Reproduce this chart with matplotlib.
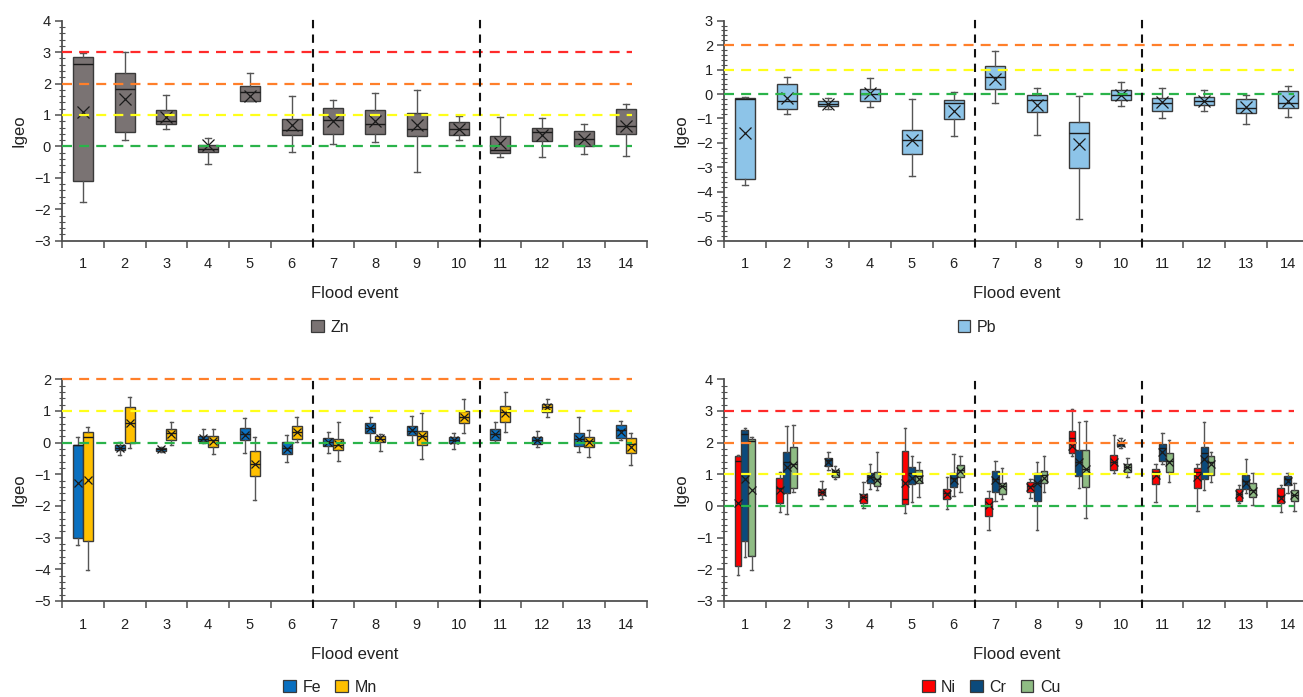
import matplotlib
matplotlib.use('Agg')
import matplotlib.pyplot as plt
from matplotlib.patches import Patch
from matplotlib.ticker import MultipleLocator, FixedLocator, NullFormatter, FixedFormatter
import matplotlib.transforms as mtrans

plt.rcParams['font.family'] = ['Liberation Sans', 'DejaVu Sans']

events = [str(i) for i in range(1, 15)]

# rows: (whisker low, Q1, median, Q3, whisker high, mean) for flood events 1..14
zn = [(-1.78, -1.11, 2.63, 2.83, 2.97, 1.09), (0.21, 0.45, 1.82, 2.33, 2.99, 1.52),
      (0.55, 0.72, 0.80, 1.16, 1.65, 0.93), (-0.55, -0.19, -0.08, 0.06, 0.27, 0.04),
      (1.43, 1.43, 1.72, 1.93, 2.33, 1.59), (-0.17, 0.37, 0.53, 0.87, 1.62, 0.68),
      (0.07, 0.38, 0.83, 1.22, 1.47, 0.80), (0.13, 0.41, 0.71, 1.17, 1.69, 0.81),
      (-0.80, 0.32, 0.57, 1.07, 1.81, 0.69), (0.21, 0.36, 0.57, 0.78, 0.98, 0.57),
      (-0.33, -0.20, -0.11, 0.33, 0.94, 0.11), (-0.34, 0.16, 0.46, 0.60, 0.89, 0.35),
      (-0.23, 0.02, 0.25, 0.50, 0.70, 0.23), (-0.31, 0.38, 0.65, 1.19, 1.36, 0.64)]

pb = [(-3.74, -3.47, -0.22, -0.15, -0.11, -1.58), (-0.80, -0.61, -0.29, 0.40, 0.70, -0.15),
      (-0.60, -0.50, -0.40, -0.30, -0.15, -0.42), (-0.53, -0.29, 0.01, 0.22, 0.65, 0.03),
      (-3.37, -2.47, -1.87, -1.49, -0.19, -1.90), (-1.72, -1.02, -0.37, -0.26, 0.07, -0.70),
      (-0.35, 0.20, 0.71, 1.13, 1.75, 0.63), (-1.68, -0.74, -0.23, -0.03, 0.23, -0.44),
      (-5.12, -3.04, -1.61, -1.13, -0.07, -2.03), (-0.48, -0.23, -0.03, 0.15, 0.49, -0.04),
      (-1.00, -0.68, -0.35, -0.16, 0.25, -0.34), (-0.71, -0.44, -0.27, -0.12, 0.16, -0.27),
      (-1.24, -0.76, -0.56, -0.22, -0.04, -0.53), (-0.95, -0.59, -0.38, 0.12, 0.31, -0.30)]

fe = [(-3.22, -3.01, -0.08, -0.06, 0.18, -1.26), (-0.39, -0.24, -0.17, -0.09, 0.03, -0.18),
      (-0.31, -0.26, -0.21, -0.16, -0.14, -0.21), (-0.02, 0.05, 0.13, 0.20, 0.43, 0.14),
      (-0.34, 0.09, 0.26, 0.46, 0.79, 0.25), (-0.60, -0.35, -0.16, 0.03, 0.24, -0.20),
      (-0.34, -0.12, 0.02, 0.14, 0.34, 0.02), (0.01, 0.31, 0.46, 0.63, 0.80, 0.46),
      (0.01, 0.24, 0.38, 0.51, 0.84, 0.39), (-0.19, -0.02, 0.09, 0.18, 0.32, 0.08),
      (0.01, 0.08, 0.27, 0.42, 0.65, 0.26), (-0.14, -0.03, 0.09, 0.17, 0.38, 0.08),
      (-0.28, -0.12, 0.12, 0.31, 0.82, 0.12), (0.07, 0.15, 0.39, 0.55, 0.69, 0.35)]

mn = [(-4.02, -3.11, 0.18, 0.33, 0.49, -1.18), (-0.18, 0.00, 0.62, 1.11, 1.45, 0.62),
      (-0.07, 0.09, 0.29, 0.42, 0.66, 0.27), (-0.35, -0.14, 0.07, 0.20, 0.42, 0.04),
      (-1.82, -1.06, -0.66, -0.25, 0.17, -0.67), (0.03, 0.12, 0.35, 0.53, 0.81, 0.35),
      (-0.57, -0.22, -0.07, 0.12, 0.64, -0.05), (-0.27, 0.01, 0.13, 0.21, 0.28, 0.14),
      (-0.52, -0.07, 0.21, 0.37, 0.95, 0.20), (0.29, 0.63, 0.82, 0.99, 1.38, 0.82),
      (0.35, 0.66, 0.97, 1.16, 1.59, 0.95), (0.82, 0.98, 1.13, 1.22, 1.39, 1.13),
      (-0.46, -0.13, 0.04, 0.17, 0.41, 0.01), (-0.71, -0.32, -0.05, 0.16, 0.32, -0.13)]

ni = [(-2.17, -1.88, 1.42, 1.57, 1.61, 0.11), (-0.18, 0.08, 0.56, 0.89, 1.06, 0.51),
      (0.22, 0.34, 0.44, 0.53, 0.79, 0.43), (-0.06, 0.11, 0.29, 0.39, 0.75, 0.29),
      (-0.23, 0.06, 0.21, 1.74, 2.46, 0.72), (-0.11, 0.23, 0.42, 0.55, 0.91, 0.38),
      (-0.77, -0.32, 0.00, 0.25, 0.47, 0.02), (0.26, 0.44, 0.63, 0.76, 0.85, 0.60),
      (1.59, 1.67, 2.15, 2.37, 3.07, 1.90), (1.04, 1.14, 1.40, 1.61, 2.24, 1.38),
      (0.13, 0.69, 1.06, 1.17, 1.31, 0.98), (-0.16, 0.58, 1.08, 1.20, 1.32, 0.90),
      (0.08, 0.16, 0.39, 0.53, 0.66, 0.39), (-0.19, 0.08, 0.32, 0.57, 0.66, 0.26)]

cr = [(-1.61, -1.09, 2.28, 2.39, 2.47, 0.85), (-0.25, 0.40, 1.38, 1.71, 2.53, 1.22),
      (1.14, 1.26, 1.45, 1.53, 1.72, 1.40), (0.53, 0.72, 0.93, 1.03, 1.31, 0.90),
      (0.13, 0.69, 1.04, 1.24, 1.57, 0.88), (0.32, 0.60, 0.87, 1.03, 1.63, 0.83),
      (0.17, 0.44, 0.85, 1.10, 1.41, 0.81), (-0.75, 0.15, 0.74, 1.03, 1.39, 0.71),
      (0.58, 0.95, 1.38, 1.77, 2.65, 1.40), (1.82, 1.90, 1.98, 2.03, 2.14, 1.98),
      (1.34, 1.43, 1.82, 1.96, 2.30, 1.72), (0.51, 0.85, 1.67, 1.86, 2.65, 1.48),
      (0.40, 0.53, 0.79, 0.99, 1.47, 0.74), (0.42, 0.66, 0.84, 0.95, 1.04, 0.79)]

cu = [(-2.03, -1.57, 2.06, 2.12, 2.18, 0.50), (0.44, 0.58, 1.32, 1.85, 2.55, 1.30),
      (0.85, 0.93, 1.08, 1.15, 1.27, 1.06), (0.50, 0.63, 0.85, 1.06, 1.69, 0.83),
      (0.29, 0.72, 0.95, 1.13, 1.38, 0.85), (0.44, 0.91, 1.13, 1.29, 1.59, 1.11),
      (0.23, 0.37, 0.63, 0.74, 1.19, 0.63), (0.44, 0.74, 0.98, 1.09, 1.59, 0.88),
      (-0.39, 0.61, 1.16, 1.77, 2.67, 1.16), (0.93, 1.08, 1.24, 1.33, 1.52, 1.23),
      (0.77, 1.06, 1.43, 1.67, 2.07, 1.38), (0.76, 0.97, 1.40, 1.57, 1.69, 1.32),
      (0.02, 0.28, 0.52, 0.71, 1.04, 0.48), (-0.16, 0.16, 0.36, 0.51, 0.72, 0.34)]

W, H = 1303, 697
fig = plt.figure(figsize=(W / 100, H / 100), dpi=100)

TXT = '#222222'
SP = '#505050'

def px_axes(x0, y_top, y_bot, width_px):
    return fig.add_axes([x0 / W, 1 - y_bot / H, width_px / W, (y_bot - y_top) / H])

def draw_boxes(ax, rows, offset, width, color, msize, capfrac):
    stats = [dict(whislo=r[0], q1=r[1], med=r[2], q3=r[3], whishi=r[4], mean=r[5], fliers=[])
             for r in rows]
    pos = [i + 1 + offset for i in range(len(rows))]
    ax.bxp(stats, positions=pos, widths=width, patch_artist=True, showmeans=True,
           showfliers=False, capwidths=width * capfrac, manage_ticks=False,
           boxprops=dict(facecolor=color, edgecolor='#3a3a3a', linewidth=1.0),
           medianprops=dict(color='#1a1a1a', linewidth=1.0),
           whiskerprops=dict(color='#555555', linewidth=1.0),
           capprops=dict(color='#555555', linewidth=1.0),
           meanprops=dict(marker='x', markeredgecolor='#1a1a1a', markerfacecolor='none',
                          markersize=msize, markeredgewidth=0.9))

LEVELS = [(3, '#ff2a2a'), (2, '#ff7f2a'), (1, '#ffff1a'), (0, '#2ab34a')]

def style_axes(ax, ylo, yhi, levels, legend_items, legend_x, legend_y):
    ax.set_xlim(0.5, 14.5)
    ax.set_ylim(ylo, yhi)
    for s in ['top', 'right']:
        ax.spines[s].set_visible(False)
    for s in ['left', 'bottom']:
        ax.spines[s].set_color(SP)
        ax.spines[s].set_linewidth(1.3)
    ax.yaxis.set_major_locator(MultipleLocator(1))
    ax.yaxis.set_minor_locator(MultipleLocator(0.2))
    ax.tick_params(axis='y', which='major', direction='out', length=5, width=1.1,
                   color=SP, labelsize=10.5, labelcolor=TXT, pad=3)
    ax.tick_params(axis='y', which='minor', direction='inout', length=4, width=0.8, color=SP)
    ax.xaxis.set_major_locator(FixedLocator([i + 0.5 for i in range(15)]))
    ax.xaxis.set_major_formatter(NullFormatter())
    ax.xaxis.set_minor_locator(FixedLocator(list(range(1, 15))))
    ax.xaxis.set_minor_formatter(FixedFormatter(events))
    ax.tick_params(axis='x', which='major', direction='out', length=5, width=1.1, color=SP)
    ax.tick_params(axis='x', which='minor', length=0, labelsize=10.5, labelcolor=TXT, pad=12)
    ax.set_xlabel('Flood event', fontsize=12, color=TXT)
    ax.xaxis.set_label_coords(0.5, -0.207)
    ax.set_ylabel('Igeo', fontsize=12, color=TXT)
    ax.yaxis.set_label_coords(-0.06, 0.5)
    for lv, col in LEVELS:
        if lv in levels:
            ax.plot([0.5, 14.16], [lv, lv], ls=(0, (4.5, 3.2)), color=col, lw=1.6,
                    zorder=4, clip_on=False)
    tr = mtrans.blended_transform_factory(ax.transData, ax.transAxes)
    for xv in (6.5, 10.5):
        ax.plot([xv, xv], [-0.03, 1.01], transform=tr, color='#111111', lw=1.5,
                ls=(0, (4, 3)), clip_on=False, zorder=5)
    handles = [Patch(facecolor=c, edgecolor='#3a3a3a', linewidth=0.9) for _, c in legend_items]
    labels = [n for n, _ in legend_items]
    fig.legend(handles, labels, loc='center', bbox_to_anchor=(legend_x / W, 1 - legend_y / H),
               ncol=len(handles), frameon=False, fontsize=11.5, handlelength=0.8,
               handleheight=0.8, handletextpad=0.4, columnspacing=0.9, labelcolor=TXT)

CW = 41.75
AXW = 14 * CW

# Zn
ax1 = px_axes(62, 20.7, 240.7, AXW)
draw_boxes(ax1, zn, 0.0, 0.48, '#7a7373', 8, 0.3)
style_axes(ax1, -3, 4, [3, 2, 1, 0], [('Zn', '#7a7373')], 330, 327)

# Pb
ax2 = px_axes(724, 20.7, 240.7, AXW)
draw_boxes(ax2, pb, 0.0, 0.48, '#8dc4e8', 8, 0.3)
style_axes(ax2, -6, 3, [2, 1, 0], [('Pb', '#8dc4e8')], 977, 327)

# Fe / Mn
ax3 = px_axes(62, 379.3, 601, AXW)
draw_boxes(ax3, fe, -0.12, 0.24, '#0a70c0', 6, 0.3)
draw_boxes(ax3, mn, 0.12, 0.24, '#ffc000', 6, 0.3)
style_axes(ax3, -5, 2, [2, 1, 0], [('Fe', '#0a70c0'), ('Mn', '#ffc000')], 330, 687)

# Ni / Cr / Cu
ax4 = px_axes(724, 379.3, 601, AXW)
draw_boxes(ax4, ni, -0.163, 0.163, '#ff0000', 5.5, 0.35)
draw_boxes(ax4, cr, 0.0, 0.163, '#0b4a7c', 5.5, 0.35)
draw_boxes(ax4, cu, 0.163, 0.163, '#8fbc84', 5.5, 0.35)
style_axes(ax4, -3, 4, [3, 2, 1, 0], [('Ni', '#ff0000'), ('Cr', '#0b4a7c'), ('Cu', '#8fbc84')], 991, 687)

fig.savefig('out.png', dpi=100)
